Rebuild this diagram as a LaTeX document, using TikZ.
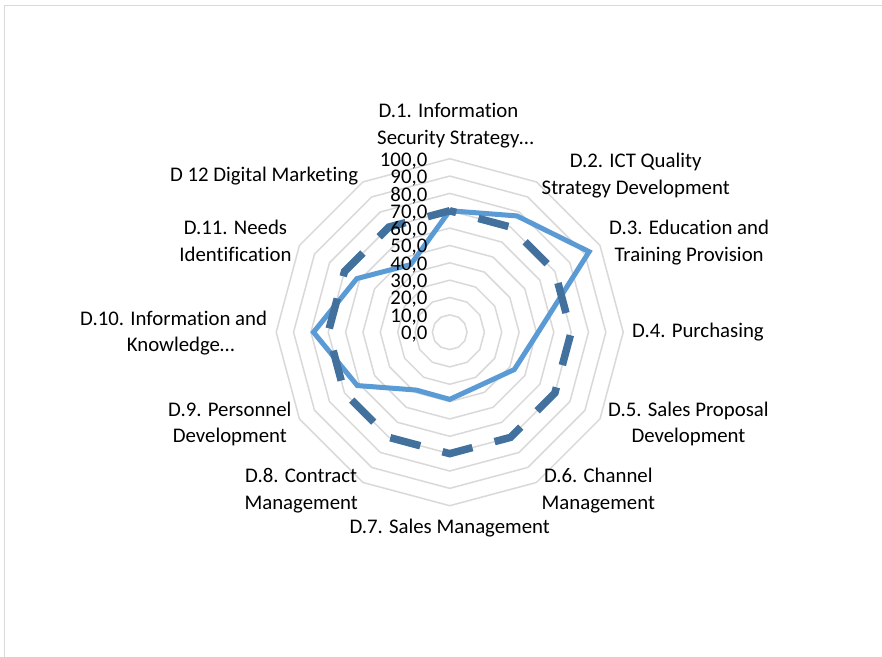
\documentclass[tikz,border=0pt]{standalone}
\usepackage{fontspec}
\setmainfont{Carlito}[Ligatures=NoCommon]
\definecolor{gridgray}{RGB}{217,217,217}
\definecolor{serblue}{RGB}{91,155,213}
\definecolor{tgtblue}{RGB}{65,113,156}
\begin{document}
\begin{tikzpicture}[x=1pt,y=-1pt,
  lab/.style={font=\fontsize{20.8}{26.5}\selectfont, inner sep=0pt, align=center, text=black},
  ticklab/.style={font=\fontsize{20.8}{26.5}\selectfont, inner sep=0pt, anchor=base east, text=black},
  ring/.style={draw=gridgray, line width=1.5pt},
  frameline/.style={draw=gridgray, line width=1.3pt},
  actual/.style={draw=serblue, line width=5pt, line join=miter},
  target/.style={draw=tgtblue, line width=7.5pt, dash pattern=on 31pt off 23pt, dash phase=24.3pt}]
\useasboundingbox (0,0) rectangle (882,656);
\fill[white] (0,0) rectangle (882,656);
\coordinate (fa) at (4.7,670);
\coordinate (fb) at (4.7,5.7);
\coordinate (fc) at (900,5.7);
\draw[frameline] (fa) -- (fb) -- (fc);
\coordinate (ctr) at (449.7,332.2);
\begin{scope}[shift={(ctr)}, yscale=-1]
  \foreach \k in {1,...,10} {
    \draw[ring] (90:{17.35*\k}) \foreach \a in {60,30,...,-240} { -- (\a:{17.35*\k}) } -- cycle;
  }
  \foreach \v [count=\i] in {70,77.4,92.8,51,43,35.3,38.7,38.5,61.5,78.5,61.8,45} {
    \coordinate (d\i) at ({90-30*(\i-1)}:{1.735*\v});
    \coordinate (t\i) at ({90-30*(\i-1)}:{1.735*70});
  }
\end{scope}
\draw[actual] (d1) -- (d2) -- (d3) -- (d4) -- (d5) -- (d6) -- (d7) -- (d8) -- (d9) -- (d10) -- (d11) -- (d12) -- cycle;
\draw[target] (t1) -- (t2) -- (t3) -- (t4) -- (t5) -- (t6) -- (t7) -- (t8) -- (t9) -- (t10) -- (t11) -- (t12) -- cycle;
\foreach \k in {0,...,10} {
  \pgfmathtruncatemacro\val{10*\k}
  \node[ticklab] (tick\k) at (427.5,{339.4-17.3*\k}) {\val,0};
}
\node[lab, anchor=center] (lab1) at (448.5,125.4) {D.1. Information\\\kern14pt Security Strategy…};
\node[lab, anchor=west] (lab2) at (541.5,175.5) {D.2. ICT Quality\\Strategy Development};
\node[lab, anchor=west] (lab3) at (609,242.7) {D.3. Education and\\Training Provision};
\node[lab, anchor=base west] (lab4) at (632,337.7) {D.4. Purchasing};
\node[lab, anchor=west] (lab5) at (608,423.8) {D.5. Sales Proposal\\Development};
\node[lab, anchor=west] (lab6) at (541.5,490.8) {D.6. Channel\\Management};
\node[lab, anchor=base] (lab7) at (449.7,533.7) {D.7. Sales Management};
\node[lab, anchor=east] (lab8) at (358,490.8) {D.8. Contract\\Management};
\node[lab, anchor=east] (lab9) at (291.7,424) {D.9. Personnel\\Development};
\node[lab, anchor=east] (lab10) at (267.3,333) {D.10. Information and\\\kern14pt Knowledge…};
\node[lab, anchor=east] (lab11) at (291.7,241) {D.11. Needs\\Identification};
\node[lab, anchor=base east] (lab12) at (358.3,181.7) {D 12 Digital Marketing};
\end{tikzpicture}
\end{document}
